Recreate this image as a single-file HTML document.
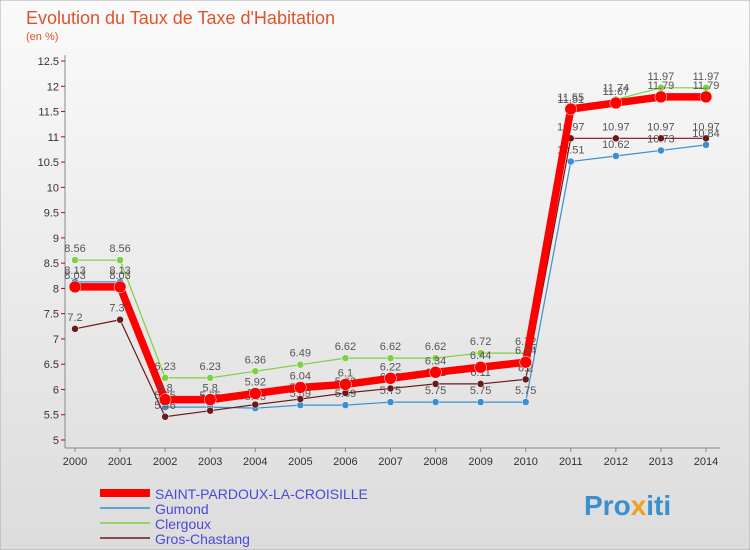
<!DOCTYPE html>
<html><head><meta charset="utf-8"><style>
body{margin:0;width:750px;height:550px;overflow:hidden;font-family:"Liberation Sans",sans-serif}
svg{display:block}
</style></head><body>
<svg width="750" height="550" id="c">
<defs><linearGradient id="bg" x1="0" y1="0" x2="0" y2="1"><stop offset="0" stop-color="#fafafa"/><stop offset="1" stop-color="#dcdcdc"/></linearGradient></defs>
<rect width="750" height="550" fill="url(#bg)" stroke="#aaa"/>
<text x="26" y="24" font-size="18" fill="#e0522a" font-weight="normal">Evolution du Taux de Taxe d'Habitation</text>
<text x="26" y="40" font-size="11" fill="#e0522a">(en %)</text>
<g id="axes"></g><g id="series"></g><g id="legend"></g>
<text x="584" y="515" font-size="28" font-weight="bold" fill="#3a8fd0">Pro<tspan fill="#f0a020">x</tspan>iti</text>
</svg>
<script>
const years=['2000','2001','2002','2003','2004','2005','2006','2007','2008','2009','2010','2011','2012','2013','2014'];
const yTicks=[5,5.5,6,6.5,7,7.5,8,8.5,9,9.5,10,10.5,11,11.5,12,12.5];
const saint=[8.03,8.03,5.8,5.8,5.92,6.04,6.1,6.22,6.34,6.44,6.54,11.55,11.67,11.79,11.79];
const gumond=[8.13,8.13,5.65,5.65,5.63,5.69,5.69,5.75,5.75,5.75,5.75,10.51,10.62,10.73,10.84];
const clergoux=[8.56,8.56,6.23,6.23,6.36,6.49,6.62,6.62,6.62,6.72,6.72,11.51,11.74,11.97,11.97];
const gros=[7.2,7.38,5.46,5.58,5.7,5.81,5.93,6.02,6.11,6.11,6.2,10.97,10.97,10.97,10.97];
const NS='http://www.w3.org/2000/svg';
function X(i){return 75+i*45.07;}
function Y(v){return 440-(v-5)*50.53;}
function mk(t,a,p){const e=document.createElementNS(NS,t);for(const k in a)e.setAttribute(k,a[k]);p.appendChild(e);return e;}
const ax=document.getElementById('axes');
let l=mk('line',{x1:65,y1:55,x2:65,y2:448,stroke:'#888'},ax);


l=mk('line',{x1:65,y1:448,x2:720,y2:448,stroke:'#888'},ax);


yTicks.forEach(v=>{const t=mk('text',{x:59,y:Y(v)+4,'font-size':11,'text-anchor':'end',fill:'#333'},ax);t.textContent=v;


mk('line',{x1:61,y1:Y(v),x2:65,y2:Y(v),stroke:'#c00'},ax);});
years.forEach((y,i)=>{const t=mk('text',{x:X(i),y:465,'font-size':11,'text-anchor':'middle',fill:'#333'},ax);t.textContent=y;


mk('line',{x1:X(i),y1:448,x2:X(i),y2:452,stroke:'#888'},ax);});
const sg=document.getElementById('series');
const defs=[[gumond,'#3a8fd0',1.2,3.5,'gumond'],[clergoux,'#7ed040',1.2,3.5,'clergoux'],[gros,'#6a1a1a',1.2,3.5,'gros-chastang'],[saint,'#ff0000',7.5,6,'saint-pardoux']];
defs.forEach(([d,c,w,r,n])=>{const g=mk('g',{},sg);


mk('polyline',{points:d.map((v,i)=>X(i)+','+Y(v)).join(' '),fill:'none',stroke:c,'stroke-width':w},g);
d.forEach((v,i)=>{const p=mk('circle',{cx:X(i),cy:Y(v),r:r,fill:c,stroke:'#fff','stroke-width':0.5},g);


const t=mk('text',{x:X(i),y:Y(v)-8,'font-size':11,'text-anchor':'middle',fill:'#555'},g);t.textContent=v;});});
const lg=document.getElementById('legend');
const leg=[['SAINT-PARDOUX-LA-CROISILLE','#ff0000',8],['Gumond','#3a8fd0',1.5],['Clergoux','#7ed040',1.5],['Gros-Chastang','#6a1a1a',1.5]];
leg.forEach(([n,c,w],i)=>{const y=493+i*15;const g=mk('g',{},lg);


mk('line',{x1:100,y1:y,x2:150,y2:y,stroke:c,'stroke-width':w},g);
const t=mk('text',{x:155,y:y+6,'font-size':14,fill:'#4a4ad8'},g);t.textContent=n;});
</script>
</body></html>
